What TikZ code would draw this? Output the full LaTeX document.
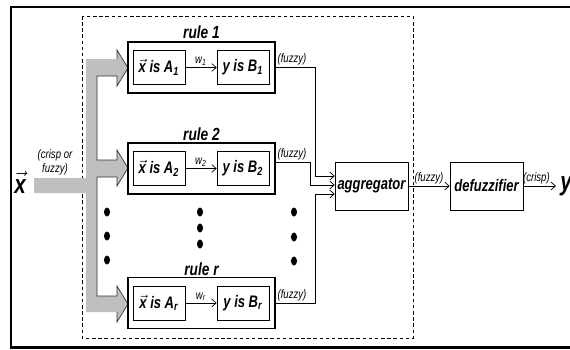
\documentclass[tikz,border=0pt]{standalone}
\usepackage{fontspec}
\setmainfont{Liberation Sans}[FakeStretch=0.78]
\usepackage{amsmath}
\usetikzlibrary{arrows.meta}
\newcommand{\xvec}{$\vec{\text{x}}$}

\begin{document}
\begin{tikzpicture}[x=0.02cm, y=-0.02cm, node distance={16.8mm},
    rulebox/.style = {draw, semithick, minimum width=29.4mm, minimum height=10.2mm},
    part/.style = {draw, minimum width=10.4mm, minimum height=6.8mm, inner sep=0pt, font=\fontsize{9.5}{11}\selectfont\bfseries\itshape},
    block/.style = {draw, minimum width=14.6mm, minimum height=9.6mm, inner sep=0pt, font=\fontsize{9.5}{11}\selectfont\bfseries\itshape},
    title/.style = {font=\fontsize{10}{12}\selectfont\bfseries\itshape},
    note/.style = {font=\fontsize{7}{8}\selectfont\itshape, inner sep=1pt},
    big/.style = {font=\fontsize{15}{16}\selectfont\bfseries\itshape, inner sep=0pt, anchor=base}]
            \useasboundingbox (0,0) rectangle (570,349);
            \draw[line width=1.7pt] (575,7) -| (11,347) -- (575,347);
            \draw[dash pattern=on 2pt off 1.5pt] (82,16) rectangle (413,338);

            % input fan-out
            \fill[gray!50] (86,59) -- (117,59) -- (117,50) -- (128,68) -- (117,86) -- (117,76) -- (97,76) -- (97,160)
                -- (117,160) -- (117,150) -- (128,168) -- (117,186) -- (117,177) -- (97,177) -- (97,296)
                -- (117,296) -- (117,286) -- (128,304) -- (117,322) -- (117,312) -- (86,312) -- (86,193)
                -- (34,193) -- (34,178) -- (86,178) -- cycle;
            \draw[black!80] (117,59) -- (117,50) -- (128,68) -- (117,86) -- (117,76) -- (97,76) -- (97,160)
                -- (117,160) -- (117,150) -- (128,168) -- (117,186) -- (117,177) -- (97,177) -- (97,296)
                -- (117,296) -- (117,286) -- (128,304) -- (117,322) -- (117,312);

            \node[big] (X) at (20,193) {\xvec};
            \node[note, align=center] (CF) at (55,162) {(crisp or\\fuzzy)};

            % rules
            \node[rulebox] (R1) at (201.5,67.5) {};
            \node[part] (A1) at (159,67.5) {\xvec\ is A\textsubscript{1}};
            \node[part] (B1) [right of=A1] {y is B\textsubscript{1}};
            \node[title] (T1) at (201.5,32) {rule 1};

            \node[rulebox] (R2) at (201.5,168.5) {};
            \node[part] (A2) at (159,168.5) {\xvec\ is A\textsubscript{2}};
            \node[part] (B2) [right of=A2] {y is B\textsubscript{2}};
            \node[title] (T2) at (201.5,134) {rule 2};

            \node[rulebox] (Rr) at (201.5,303) {};
            \node[part] (Ar) at (159,303) {\xvec\ is A\textsubscript{r}};
            \node[part] (Br) [right of=Ar] {y is B\textsubscript{r}};
            \node[title] (Tr) at (201.5,269) {rule r};

            \path[-{Straight Barb[length=2.5pt,width=4.5pt]}] (A1) edge node[note, above] {w\textsubscript{1}} (B1);
            \path[-{Straight Barb[length=2.5pt,width=4.5pt]}] (A2) edge node[note, above] {w\textsubscript{2}} (B2);
            \path[-{Straight Barb[length=2.5pt,width=4.5pt]}] (Ar) edge node[note, above] {w\textsubscript{r}} (Br);

            % dots
            \fill (107,212) ellipse [x radius=0.6mm, y radius=0.9mm];
            \fill (107,236) ellipse [x radius=0.6mm, y radius=0.9mm];
            \fill (107,260) ellipse [x radius=0.6mm, y radius=0.9mm];
            \fill (200,212) ellipse [x radius=0.6mm, y radius=0.9mm];
            \fill (200,228) ellipse [x radius=0.6mm, y radius=0.9mm];
            \fill (200,244) ellipse [x radius=0.6mm, y radius=0.9mm];
            \fill (294,212) ellipse [x radius=0.6mm, y radius=0.9mm];
            \fill (294,237) ellipse [x radius=0.6mm, y radius=0.9mm];
            \fill (294,261) ellipse [x radius=0.6mm, y radius=0.9mm];

            % aggregation and output
            \node[block] (AGG) at (371.5,186) {aggregator};
            \node[block] (DEF) at (486.5,186) {defuzzifier};
            \node[big] (Y) at (566,190) {y};

            \draw[-{Straight Barb[length=2.5pt,width=4.5pt]}] (R1.east) -- ++(40,0) |- ([yshift=2mm]AGG.west);
            \draw[-{Straight Barb[length=2.5pt,width=4.5pt]}] ([yshift=1.2mm]R2.east) -- ++(35,0) |- ([yshift=0.2mm]AGG.west);
            \draw[-{Straight Barb[length=2.5pt,width=4.5pt]}] (Rr.east) -- ++(40,0) |- ([yshift=-1.6mm]AGG.west);
            \node[note, anchor=south west] (F1) at (R1.east) {(fuzzy)};
            \node[note, anchor=south west] (F2) at ([yshift=1.2mm]R2.east) {(fuzzy)};
            \node[note, anchor=south west] (Fr) at (Rr.east) {(fuzzy)};

            \path[-{Straight Barb[length=2.5pt,width=4.5pt]}] (AGG) edge node[note, above] {(fuzzy)} (DEF);
            \path[-{Straight Barb[length=2.5pt,width=4.5pt]}] (DEF) edge node[note, above, pos=0.4] {(crisp)} ([xshift=-0.8mm]Y.west |- DEF);
        \end{tikzpicture}
\end{document}
